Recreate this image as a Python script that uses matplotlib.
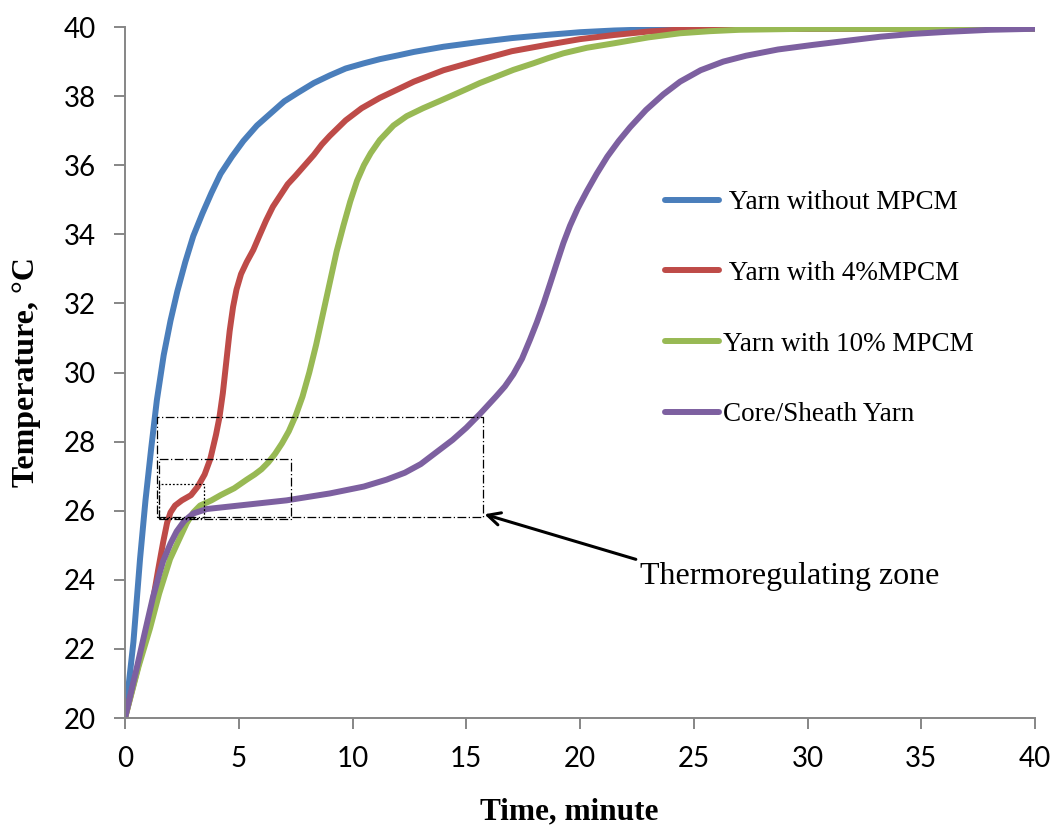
import matplotlib
matplotlib.use("Agg")
import matplotlib.pyplot as plt

# time (minute) and temperature (°C)
t_plain = [0, 0.37, 0.66, 0.9, 1.15, 1.4, 1.7, 2.0, 2.3, 2.65, 3.0, 3.4, 3.8, 4.2, 4.7, 5.2,
           5.8, 6.4, 7.0, 7.6, 8.3, 9.0, 9.7, 10.5, 11.2, 12.0, 12.7, 14.0, 15.6, 17.0, 18.5,
           20.0, 21.5, 23.0, 25, 30, 40]
T_plain = [20, 22.2, 24.6, 26.3, 27.8, 29.2, 30.5, 31.5, 32.35, 33.2, 33.95, 34.6, 35.2, 35.75,
           36.25, 36.7, 37.15, 37.5, 37.85, 38.1, 38.38, 38.6, 38.8, 38.95, 39.07, 39.18, 39.28,
           39.43, 39.57, 39.68, 39.77, 39.85, 39.9, 39.93, 39.95, 39.95, 39.95]

t_4 = [0, 0.5, 0.96, 1.2, 1.46, 1.68, 1.85, 2.0, 2.2, 2.5, 2.9, 3.2, 3.5, 3.75, 4.0, 4.15,
       4.3, 4.45, 4.6, 4.75, 4.9, 5.1, 5.35, 5.64, 5.9, 6.2, 6.5, 6.8, 7.15, 7.5, 7.9, 8.3,
       8.65, 9.0, 9.7, 10.4, 11.2, 12.0, 12.7, 14.0, 15.6, 17.0, 18.5, 20.0, 21.5, 23.0,
       24.5, 27, 40]
T_4 = [20, 21.3, 22.5, 23.3, 24.3, 25.1, 25.65, 25.95, 26.15, 26.3, 26.45, 26.7, 27.05, 27.5,
       28.2, 28.7, 29.4, 30.3, 31.2, 31.9, 32.4, 32.85, 33.2, 33.55, 33.95, 34.4, 34.8, 35.1,
       35.45, 35.7, 36.0, 36.3, 36.6, 36.85, 37.3, 37.65, 37.95, 38.2, 38.42, 38.75, 39.05,
       39.3, 39.48, 39.65, 39.77, 39.87, 39.93, 39.95, 39.95]

t_10 = [0, 0.6, 1.1, 1.5, 1.98, 2.4, 2.71, 3.0, 3.3, 3.8, 4.2, 4.8, 5.35, 5.7, 6.0, 6.3, 6.6,
        6.9, 7.2, 7.5, 7.8, 8.1, 8.4, 8.7, 9.0, 9.3, 9.6, 9.9, 10.2, 10.5, 10.8, 11.2, 11.8,
        12.38, 13.1, 13.8, 14.42, 15.0, 15.6, 16.3, 17.07, 17.95, 18.6, 19.27, 20.3, 21.5,
        23.0, 24.4, 25.7, 27, 30, 40]
T_10 = [20, 21.5, 22.6, 23.6, 24.6, 25.2, 25.64, 25.95, 26.15, 26.3, 26.45, 26.65, 26.9, 27.05,
        27.2, 27.4, 27.65, 27.95, 28.3, 28.75, 29.3, 30.0, 30.8, 31.7, 32.6, 33.5, 34.25,
        34.95, 35.55, 36.0, 36.35, 36.73, 37.15, 37.42, 37.65, 37.85, 38.03, 38.2, 38.38,
        38.56, 38.76, 38.95, 39.1, 39.24, 39.4, 39.53, 39.7, 39.82, 39.88, 39.92, 39.95, 39.95]

t_cs = [0, 0.5, 0.88, 1.23, 1.5, 1.68, 2.0, 2.27, 2.6, 3.0, 3.6, 5.0, 7.1, 9.0, 10.5, 11.5,
        12.3, 13.0, 13.7, 14.4, 15.0, 15.6, 16.3, 16.7, 17.07, 17.45, 17.8, 18.1, 18.4, 18.7,
        18.98, 19.27, 19.56, 19.9, 20.3, 20.73, 21.2, 21.7, 22.2, 22.9, 23.66, 24.4, 25.3,
        26.3, 27.3, 28.7, 30.2, 31.7, 33.2, 34.6, 36.1, 38, 40]
T_cs = [20, 21.4, 22.5, 23.5, 24.15, 24.55, 25.05, 25.4, 25.7, 25.92, 26.05, 26.15, 26.3, 26.5,
        26.7, 26.9, 27.1, 27.35, 27.7, 28.05, 28.4, 28.8, 29.3, 29.6, 29.95, 30.4, 30.95,
        31.45, 32.0, 32.6, 33.17, 33.75, 34.25, 34.75, 35.25, 35.75, 36.25, 36.7, 37.1, 37.6,
        38.05, 38.42, 38.75, 39.0, 39.17, 39.35, 39.48, 39.6, 39.72, 39.8, 39.86, 39.92, 39.95]

labels = [" Yarn without MPCM", " Yarn with 4%MPCM", "Yarn with 10% MPCM", "Core/Sheath Yarn"]
colors = ["#4A7EBB", "#BE4B48", "#98B954", "#7D60A0"]

# thermoregulating zone boxes: (t0, t1, T0, T1)
boxes = [(1.39, 15.72, 25.81, 28.72), (1.51, 7.28, 25.76, 27.5), (1.48, 3.49, 25.78, 26.77)]
box_styles = [(0, (7, 2, 1, 2)), (0, (7, 2, 1, 2)), (0, (1.5, 1.5))]

fig = plt.figure(figsize=(10.54, 8.32), dpi=100)
ax = fig.add_axes([0.1186, 0.137, 0.8634, 0.8305])

series = [(t_plain, T_plain), (t_4, T_4), (t_10, T_10), (t_cs, T_cs)]
for (x, y), lab, c in zip(series, labels, colors):
    ax.plot(x, y, color=c, lw=4.3, label=lab, solid_capstyle="round", solid_joinstyle="round")

for (a, b, lo, hi), ls in zip(boxes, box_styles):
    ax.plot([a, b, b, a, a], [lo, lo, hi, hi, lo], color="black", lw=0.9, linestyle=ls)

ax.annotate("", xy=(15.68, 25.92), xytext=(22.57, 24.57),
            arrowprops=dict(arrowstyle="->,head_length=0.9,head_width=0.45", lw=2.2, color="black"))
ax.text(22.64, 24.11, "Thermoregulating zone", fontsize=23, family="Liberation Serif",
        va="center", ha="left")

ax.set_xlim(0, 40)
ax.set_ylim(20, 40)
ax.set_xticks(range(0, 41, 5))
ax.set_yticks(range(20, 41, 2))
for s in ["top", "right"]:
    ax.spines[s].set_visible(False)
for s in ["left", "bottom"]:
    ax.spines[s].set_color("#868686")
    ax.spines[s].set_linewidth(1.4)
ax.tick_params(axis="both", colors="#868686", width=1.4, length=8, labelcolor="black",
               labelsize=20)
ax.tick_params(axis="x", pad=12)
ax.tick_params(axis="y", pad=13)
for lab in ax.get_xticklabels() + ax.get_yticklabels():
    lab.set_family("Lato")

ax.set_xlabel("Time, minute", family="Liberation Serif", fontweight="bold", fontsize=22.5,
              va="center")
ax.xaxis.set_label_coords(0.488, -0.136)
ax.set_ylabel("Temperature, °C", family="Liberation Serif", fontweight="bold", fontsize=23,
              va="center")
ax.yaxis.set_label_coords(-0.108, 0.5)

leg = ax.legend(loc="upper left", bbox_to_anchor=(665 / 1054, 1 - 190 / 832),
                bbox_transform=fig.transFigure, frameon=False, borderpad=0, borderaxespad=0,
                handlelength=2.0, handletextpad=0.15, labelspacing=1.69,
                prop={"family": "Liberation Serif", "size": 19.5})

fig.savefig("out.png", dpi=100)
